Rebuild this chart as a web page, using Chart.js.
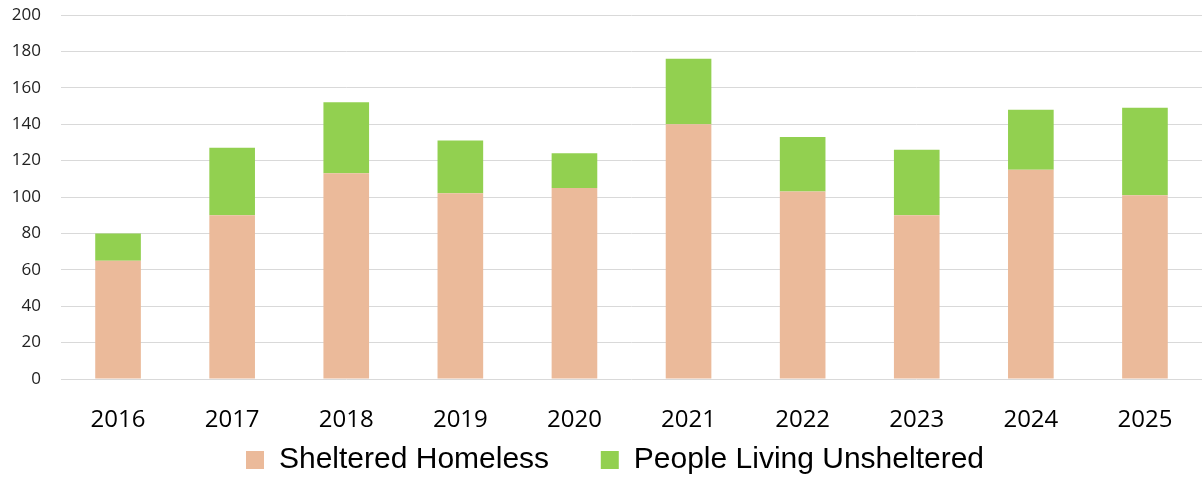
<!DOCTYPE html>
<html>
<head>
<meta charset="utf-8">
<script src="https://cdn.jsdelivr.net/npm/chart.js@4"></script>
<style>
  html, body { margin: 0; padding: 0; background: #fff; }
  #wrap { width: 1202px; height: 477px; }
</style>
</head>
<body>
<div id="wrap"><canvas id="homelessChart"></canvas></div>
<script>
/* ── data ── */
const years       = ['2016','2017','2018','2019','2020','2021','2022','2023','2024','2025'];
const sheltered   = [65, 90, 113, 102, 105, 140, 103, 90, 115, 101];
const unsheltered = [15, 37, 39, 29, 19, 36, 30, 36, 33, 48];
const yTicks      = [0, 20, 40, 60, 80, 100, 120, 140, 160, 180, 200];

const PEACH = '#EBBA9A';
const GREEN = '#92D050';
const GRID  = '#d9d9d9';

function barDataset(data, color, label) {
  return {
    label,
    data,
    backgroundColor: color,
    borderWidth: 0,
    barPercentage: 0.4,
    categoryPercentage: 1.0,
  };
}

/* legend needs wide item gap but a short box, nudged a bit right */
const legendTweak = {
  id: 'legendTweak',
  beforeInit(chart) {
    const lg = chart.legend;
    if (!lg) return;
    const fit = lg.fit;
    lg.fit = function () { fit.call(this); this.height = 42; };
  },
  afterLayout(chart) {
    const lg = chart.legend;
    if (!lg) return;
    lg.left += 8;
    lg.right += 8;
  }
};

new Chart(document.getElementById('homelessChart'), {
  type: 'bar',
  data: {
    labels: years,
    datasets: [
      barDataset(sheltered, PEACH, 'Sheltered Homeless'),
      barDataset(unsheltered, GREEN, 'People Living Unsheltered'),
    ]
  },
  plugins: [legendTweak],
  options: {
    responsive: true,
    maintainAspectRatio: false,
    animation: false,
    layout: { padding: { left: 12, right: 0, top: 0, bottom: 0 } },
    plugins: {
      legend: {
        display: true,
        position: 'bottom',
        labels: {
          color: '#000',
          font: { family: '"Liberation Sans", sans-serif', size: 30 },
          boxWidth: 18,
          boxHeight: 18,
          padding: 10,
          generateLabels: chart => {
            const items = Chart.defaults.plugins.legend.labels.generateLabels(chart);
            items[0].text += '     ';
            return items;
          }
        }
      },
      tooltip: { enabled: false }
    },
    scales: {
      x: {
        stacked: true,
        grid: { display: false },
        border: { display: false },
        afterFit: axis => { axis.height = 56; },
        ticks: {
          color: '#000',
          font: { family: '"Open Sans", sans-serif', size: 24 },
          padding: 19,
        }
      },
      y: {
        stacked: true,
        min: 0, max: 200,
        afterBuildTicks: axis => { axis.ticks = yTicks.map(v => ({ value: v })); },
        afterFit: axis => { axis.width = 49; axis.paddingTop = 15; },
        grid: { color: GRID, lineWidth: 1, drawTicks: false },
        border: { display: false },
        ticks: {
          color: '#222',
          font: { family: '"Open Sans", sans-serif', size: 17 },
          padding: 20,
        }
      }
    }
  }
});
</script>
</body>
</html>
